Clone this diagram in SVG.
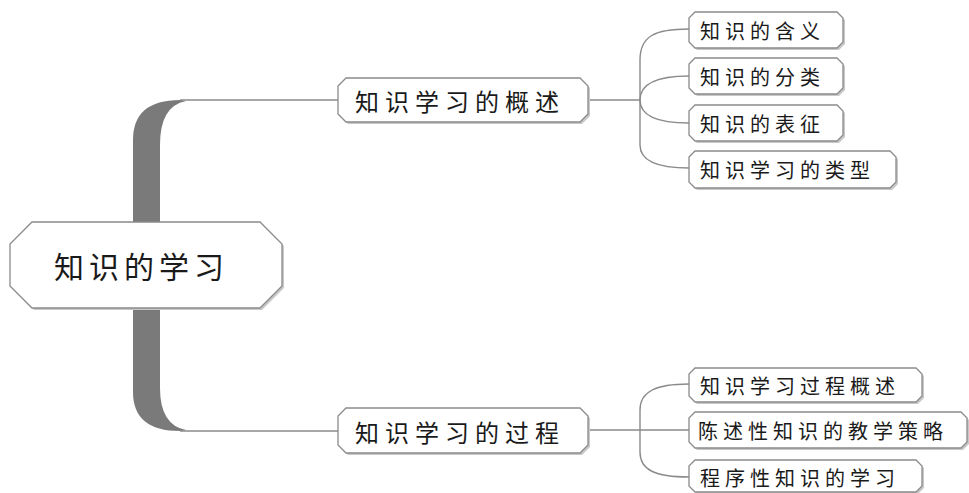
<svg xmlns="http://www.w3.org/2000/svg" width="969" height="493" viewBox="0 0 969 493">
<style>
.box{fill:#fff;stroke:#8a8a8a;stroke-width:1.3}
.sh{fill:#c8c8c8}
.ln{fill:none;stroke:#8a8a8a;stroke-width:1.4}
.t{font-family:"Noto Sans CJK SC","Noto Sans CJK JP",sans-serif;fill:#1a1a1a;dominant-baseline:central}
.t0{font-size:30px;letter-spacing:5px}
.t1{font-size:24px;letter-spacing:6px}
.t2{font-size:20px;letter-spacing:5px}
</style>
<rect width="969" height="493" fill="#fff"/>
<g id="connectors">
  <path d="M133,240 L133,140 Q133,100 180,100 L186,101 Q160,106 160,145 L160,240 Z" fill="#7a7a7a"/>
  <path d="M133,300 L133,392 Q133,431 180,431 L186,430 Q160,425 160,388 L160,300 Z" fill="#7a7a7a"/>
  <path class="ln" d="M180,100 L338,100"/>
  <path class="ln" d="M180,431 L338,431"/>
  <path class="ln" d="M588,100 L640,100"/>
  <path class="ln" d="M689,29 C655,29 640,36 640,60 L640,145 C640,160 655,168 689,168"/>
  <path class="ln" d="M689,76 C655,76 640,84 640,100"/>
  <path class="ln" d="M689,123 C655,123 640,115 640,100"/>
  <path class="ln" d="M588,430 L689,430"/>
  <path class="ln" d="M689,384 C655,384 640,392 640,410 L640,452 C640,470 655,477 689,477"/>
</g>
<g id="root">
  <polygon class="sh" points="34,224 262,224 284,246 284,288 262,310 34,310 12,288 12,246"/>
  <polygon class="box" points="32,222 260,222 282,244 282,286 260,308 32,308 10,286 10,244"/>
  <text class="t t0" x="54" y="265">知识的学习</text>
</g>
<g id="n1">
  <polygon class="sh" points="348,80 582,80 590,88 590,116 582,124 348,124 340,116 340,88"/>
  <polygon class="box" points="346,78 580,78 588,86 588,114 580,122 346,122 338,114 338,86"/>
  <text class="t t1" x="355" y="100">知识学习的概述</text>
</g>
<g id="n2">
  <polygon class="sh" points="348,410 582,410 590,418 590,447 582,455 348,455 340,447 340,418"/>
  <polygon class="box" points="346,408 580,408 588,416 588,445 580,453 346,453 338,445 338,416"/>
  <text class="t t1" x="355" y="431">知识学习的过程</text>
</g>
<g id="c1">
  <polygon class="sh" points="697,14 839,14 845,20 845,44 839,50 697,50 691,44 691,20"/>
  <polygon class="box" points="695,12 837,12 843,18 843,42 837,48 695,48 689,42 689,18"/>
  <text class="t t2" x="700" y="30">知识的含义</text>
</g>
<g id="c2">
  <polygon class="sh" points="697,60 839,60 845,66 845,90 839,96 697,96 691,90 691,66"/>
  <polygon class="box" points="695,58 837,58 843,64 843,88 837,94 695,94 689,88 689,64"/>
  <text class="t t2" x="700" y="76">知识的分类</text>
</g>
<g id="c3">
  <polygon class="sh" points="697,107 839,107 845,113 845,137 839,143 697,143 691,137 691,113"/>
  <polygon class="box" points="695,105 837,105 843,111 843,135 837,141 695,141 689,135 689,111"/>
  <text class="t t2" x="700" y="123">知识的表征</text>
</g>
<g id="c4">
  <polygon class="sh" points="697,153 892,153 898,159 898,184 892,190 697,190 691,184 691,159"/>
  <polygon class="box" points="695,151 890,151 896,157 896,182 890,188 695,188 689,182 689,157"/>
  <text class="t t2" x="700" y="169">知识学习的类型</text>
</g>
<g id="c5">
  <polygon class="sh" points="697,370 918,370 924,376 924,398 918,404 697,404 691,398 691,376"/>
  <polygon class="box" points="695,368 916,368 922,374 922,396 916,402 695,402 689,396 689,374"/>
  <text class="t t2" x="700" y="385">知识学习过程概述</text>
</g>
<g id="c6">
  <polygon class="sh" points="697,414 963,414 969,420 969,444 963,450 697,450 691,444 691,420"/>
  <polygon class="box" points="695,412 961,412 967,418 967,442 961,448 695,448 689,442 689,418"/>
  <text class="t t2" x="698" y="430">陈述性知识的教学策略</text>
</g>
<g id="c7">
  <polygon class="sh" points="697,462 918,462 924,468 924,488 918,494 697,494 691,488 691,468"/>
  <polygon class="box" points="695,460 916,460 922,466 922,486 916,492 695,492 689,486 689,466"/>
  <text class="t t2" x="700" y="477">程序性知识的学习</text>
</g>
</svg>
